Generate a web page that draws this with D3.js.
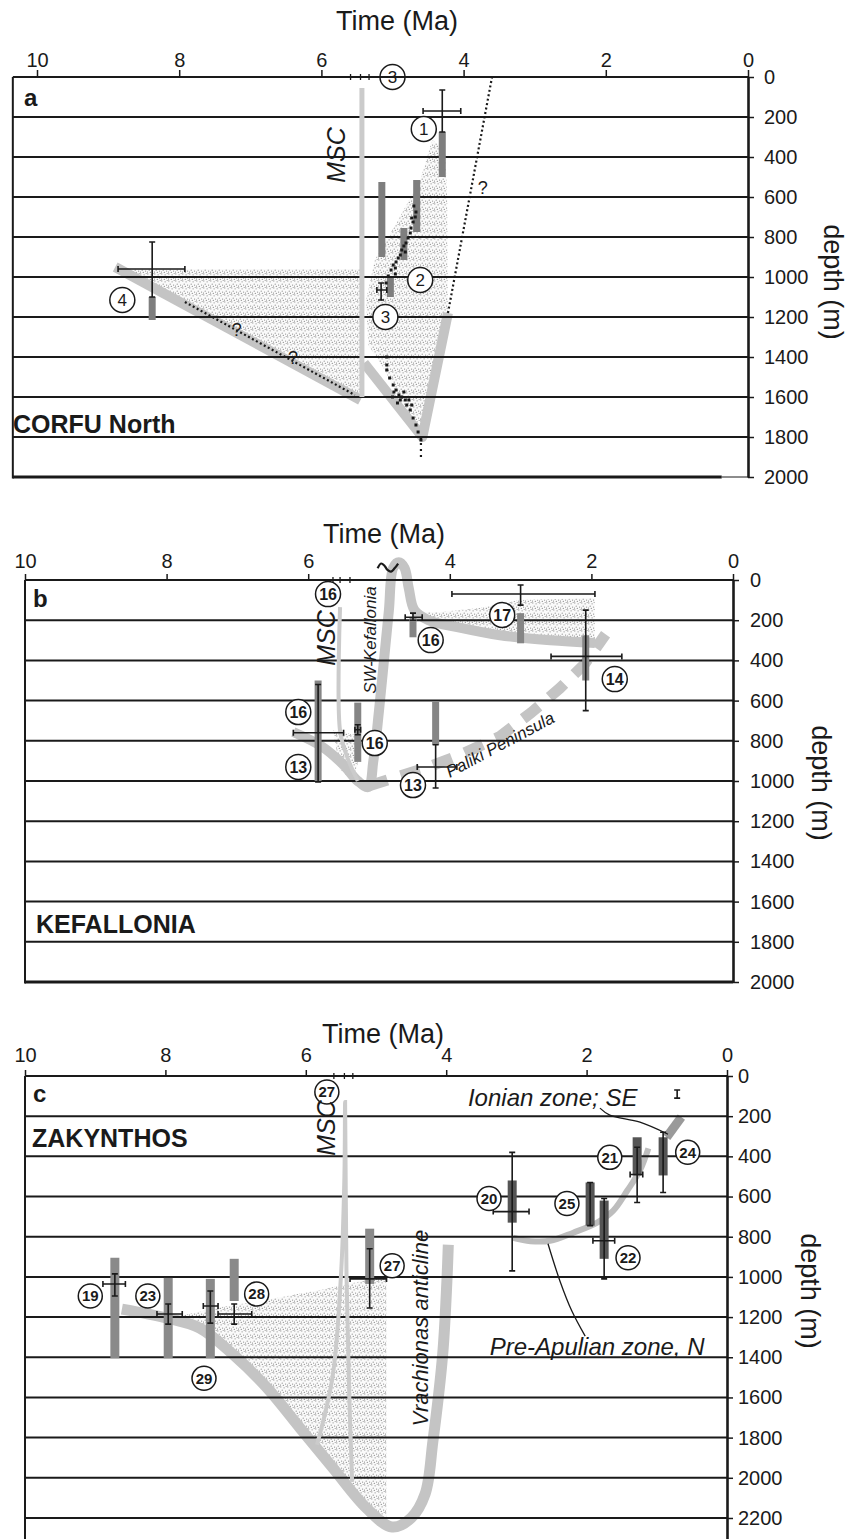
<!DOCTYPE html>
<html>
<head>
<meta charset="utf-8">
<script src="https://cdn.jsdelivr.net/npm/d3@7"></script>
<style>
  body { margin: 0; background: #fff; }
  svg { display: block; }
</style>
</head>
<body>
<svg id="chart" width="859" height="1539"></svg>
<script>
var font = '"Liberation Sans", Arial, Helvetica, sans-serif';
var ink = "#1a1a1a";
var thickGray = "#c4c4c4";
var mscGray = "#cbcbcb";

var timeTicks = [10, 8, 6, 4, 2, 0];
var depthTicksAB = d3.range(0, 2001, 200);
var depthTicksC = d3.range(0, 2201, 200);

// ---------- panel a : CORFU North ----------  [time Ma, depth m]
var aSubsidence = [[8.9, 950], [5.45, 1615]];
var aRebound = [[5.4, 1430], [4.58, 1800], [4.22, 1180]];
var aMsc = [[5.43, 1600], [5.43, 55]];
var aQueryLeft = [[7.92, 1125], [5.53, 1590]];
var aQueryRight = [[4.22, 1180], [3.6, 0]];
var aQueryBottom = [[4.6, 1800], [4.6, 1910]];
var aStippleLeft = [[8.9, 960], [5.45, 960], [5.45, 1610]];
var aStippleRight = [[4.44, 315], [4.26, 365], [4.23, 615], [4.22, 1180], [4.33, 1465], [4.47, 1715],
  [4.58, 1800], [4.82, 1665], [5.11, 1465], [5.34, 1340], [5.37, 1115], [5.25, 915], [4.96, 740], [4.61, 515]];
var aBars = [[5.15, 525, 900], [4.66, 515, 775], [4.84, 755, 915], [5.03, 1005, 1100], [4.3, 275, 500], [8.38, 1100, 1215]];
var aVErr = [[4.3, 65, 275], [8.38, 825, 1100], [5.16, 1030, 1115]];
var aHErr = [[170, 4.57, 4.04], [960, 8.86, 7.92], [1065, 5.22, 5.08]];
var aNumbers = [["1", 4.56, 260], ["2", 4.61, 1015], ["3", 5.1, 1200], ["3", 5.0, 0], ["4", 8.8, 1115]];
var aQuestions = [[7.19, 1265], [6.4, 1405], [3.73, 555]];
var aMscMarks = [5.59, 5.45, 5.33];
var aWellDots = [
  [5.09, 1030], [5.06, 995], [5.02, 965], [4.99, 940], [4.95, 925], [4.92, 905], [4.89, 890], [4.87, 865],
  [4.84, 845], [4.81, 830], [4.78, 805], [4.75, 780], [4.74, 755], [4.71, 725], [4.68, 700], [4.67, 675],
  [4.70, 645], [4.73, 705], [4.82, 875], [4.96, 955], [4.96, 985], [5.08, 1400], [5.08, 1440],
  [5.08, 1465], [5.04, 1505], [4.99, 1540], [4.95, 1565], [4.91, 1590], [4.87, 1600], [4.82, 1615],
  [4.80, 1640], [4.75, 1665], [4.71, 1705], [4.67, 1740], [4.64, 1775], [4.60, 1815], [4.98, 1575],
  [4.89, 1615], [4.84, 1575], [4.77, 1615], [4.73, 1640], [5.0, 1600], [4.93, 1630]
];

// ---------- panel b : KEFALLONIA ----------
var bCurve = [[6.21, 756], [5.8, 830], [5.5, 920], [5.3, 1000], [5.15, 1030], [5.08, 900], [5.0, 650],
  [4.93, 400], [4.86, 150], [4.8, -60], [4.72, -88], [4.64, -60], [4.58, 40], [4.5, 150], [4.3, 200],
  [3.86, 237], [3.29, 275], [2.58, 300], [1.95, 313]];
var bMsc = [[5.55, 135], [5.55, 750], [5.45, 880], [5.3, 1000]];
var bPaliki = [[5.15, 1025], [4.3, 930], [3.85, 870], [3.3, 780], [2.85, 660], [2.45, 540], [2.1, 420], [1.8, 270]];
var bStippleTop = [[4.56, 159], [4.14, 159], [3.57, 139], [3.01, 100], [1.95, 90], [1.95, 313], [2.58, 299],
  [3.29, 274], [3.86, 234], [4.28, 199]];
var bStippleLow = [[5.65, 746], [5.34, 771], [5.3, 920], [5.38, 995], [5.55, 945]];
var bBars = [[4.52, 185, 285], [3.0, 165, 315], [2.08, 275, 500], [4.2, 605, 820], [5.86, 500, 1000], [5.3, 610, 905]];
var bVErr = [[3.0, 25, 125], [4.52, 165, 200], [2.08, 150, 650], [4.2, 820, 1035], [5.86, 520, 1005], [5.3, 720, 770]];
var bHErr = [[70, 3.97, 1.95], [185, 4.63, 4.39], [380, 2.57, 1.57], [930, 4.46, 3.9], [760, 6.21, 5.5], [745, 5.34, 5.26]];
var bNumbers = [["16", 5.72, 70], ["16", 4.27, 299], ["17", 3.26, 174], ["14", 1.67, 493], ["13", 4.52, 1020],
  ["16", 6.14, 657], ["13", 6.14, 930], ["16", 5.06, 811]];
var bWave = [[5.02, -58], [4.97, -82], [4.92, -70], [4.88, -50], [4.83, -42], [4.78, -58], [4.73, -82]];
var bMscMarks = [5.65, 5.55, 5.41];

// ---------- panel c : ZAKYNTHOS ----------
var cVrachionas = [[8.62, 1160], [7.98, 1205], [7.51, 1255], [7.04, 1385], [6.55, 1553], [6.08, 1753],
  [5.61, 1953], [5.13, 2153], [4.77, 2245], [4.5, 2200], [4.3, 2080], [4.19, 1820], [4.05, 1385], [3.99, 1020], [3.97, 840]];
var cMsc = [[5.84, 1835], [5.62, 1500], [5.5, 1000], [5.45, 500], [5.44, 130], [5.42, 1000], [5.38, 1600], [5.34, 2020]];
var cStipple = [[7.8, 1195], [7.2, 1150], [6.5, 1110], [5.8, 1065], [5.2, 1020], [4.85, 1000], [4.85, 2240],
  [5.13, 2153], [5.61, 1953], [6.08, 1753], [6.55, 1553], [7.04, 1385], [7.51, 1255], [7.8, 1215]];
var cPreApulian = [[3.05, 805], [2.8, 822], [2.52, 820], [2.19, 780], [1.85, 730], [1.62, 670], [1.42, 570], [1.24, 470], [1.12, 360]];
var cIonian = [[0.86, 305], [0.65, 205]];
var cLeaderIonian = [[1.81, 160], [1.67, 195], [1.24, 230], [0.84, 290]];
var cLeaderPre = [[2.55, 835], [2.38, 1020], [2.21, 1170], [2.02, 1295]];
var cBarsLight = [[8.72, 905, 1405], [7.96, 1005, 1405], [7.36, 1010, 1405], [7.02, 910, 1120], [5.09, 760, 1035]];
var cBarsDark = [[3.06, 520, 730], [1.95, 530, 745], [1.75, 620, 910], [1.28, 305, 495], [0.91, 305, 495]];
var cVErr = [[8.72, 985, 1095], [7.96, 1135, 1235], [7.36, 1070, 1230], [7.02, 1135, 1235], [5.09, 860, 1155],
  [3.06, 380, 970], [1.95, 530, 745], [1.75, 610, 1010], [1.28, 355, 630], [0.91, 280, 580], [0.71, 70, 110]];
var cHErr = [[1035, 8.89, 8.57], [1185, 8.12, 7.76], [1145, 7.46, 7.25], [1185, 7.25, 6.77], [1010, 5.37, 4.85],
  [675, 3.33, 2.82], [820, 1.91, 1.6], [490, 1.38, 1.2]];
var cNumbers = [["19", 9.07, 1095], ["23", 8.25, 1095], ["29", 7.45, 1505], ["28", 6.7, 1085], ["27", 5.7, 80],
  ["27", 4.77, 945], ["20", 3.39, 610], ["25", 2.28, 635], ["22", 1.41, 905], ["21", 1.67, 405], ["24", 0.56, 380]];
var cMscMarks = [5.6, 5.45, 5.33];

var svg = d3.select("#chart").attr("font-family", font);
svg.append("rect").attr("width", 859).attr("height", 1539).attr("fill", "#fff");

// fine grey stipple used for the sediment fill
var pat = svg.append("defs").append("pattern").attr("id", "stipple")
  .attr("patternUnits", "userSpaceOnUse").attr("width", 7).attr("height", 7);
pat.append("rect").attr("width", 7).attr("height", 7).attr("fill", "#fafafa");
[[0.8, 0.9], [4.1, 1.8], [2.2, 4.2], [5.6, 5.1], [6.2, 0.2], [0.4, 6.1], [3.3, 6.4]].forEach(function(p) {
  pat.append("circle").attr("cx", p[0]).attr("cy", p[1]).attr("r", 0.6).attr("fill", "#8c8c8c");
});

function drawPanel(p) {
  var x = d3.scaleLinear().domain([10, 0]).range([p.x10, p.x0]);
  var y = d3.scaleLinear().domain([0, p.dMax]).range([p.top, p.top + p.dMax * p.ky]);
  var g = svg.append("g");
  var xl = x(p.tLeft), xr = x(0);
  function path(curve) {
    return d3.line().x(function(d) { return x(d[0]); }).y(function(d) { return y(d[1]); })
      .curve(curve || d3.curveLinear);
  }

  p.stipple.forEach(function(s) {
    g.append("path").attr("d", path()(s) + "Z").attr("fill", "url(#stipple)");
  });

  p.thick.forEach(function(c) {
    g.append("path").attr("d", path(c.curve)(c.pts))
      .attr("fill", "none").attr("stroke", c.color || thickGray).attr("stroke-width", c.width || 10)
      .attr("stroke-dasharray", c.dash || null).attr("stroke-linejoin", "round");
  });

  // horizontal depth lines
  g.selectAll(".grid").data(p.depthTicks.filter(function(d) { return d > 0 && d < 2000 || (p.open && d > 0); }))
    .enter().append("line")
    .attr("x1", xl).attr("x2", xr).attr("y1", function(d) { return y(d); }).attr("y2", function(d) { return y(d); })
    .attr("stroke", ink).attr("stroke-width", 2);

  p.thin.forEach(function(c) {
    g.append("path").attr("d", path(c.curve)(c.pts)).attr("fill", "none")
      .attr("stroke", c.color).attr("stroke-width", c.width).attr("stroke-dasharray", c.dash || null);
  });

  g.selectAll(".bar").data(p.bars).enter().append("line")
    .attr("x1", function(d) { return x(d[0]); }).attr("x2", function(d) { return x(d[0]); })
    .attr("y1", function(d) { return y(d[1]); }).attr("y2", function(d) { return y(d[2]); })
    .attr("stroke", function(d) { return d[3] || p.barColor; }).attr("stroke-width", p.barWidth);

  var err = g.append("g").attr("stroke", ink).attr("stroke-width", 1.6).attr("fill", "none");
  p.vErr.forEach(function(d) {
    var xx = x(d[0]);
    err.append("path").attr("d", "M" + xx + "," + y(d[1]) + "V" + y(d[2]) +
      "M" + (xx - 3) + "," + y(d[1]) + "h6M" + (xx - 3) + "," + y(d[2]) + "h6");
  });
  p.hErr.forEach(function(d) {
    var yy = y(d[0]);
    err.append("path").attr("d", "M" + x(d[1]) + "," + yy + "H" + x(d[2]) +
      "M" + x(d[1]) + "," + (yy - 3) + "v6M" + x(d[2]) + "," + (yy - 3) + "v6");
  });

  (p.dots || []).forEach(function(d) {
    g.append("rect").attr("x", x(d[0]) - 1.5).attr("y", y(d[1]) - 1.5).attr("width", 3).attr("height", 3).attr("fill", ink);
  });

  (p.questions || []).forEach(function(d) {
    g.append("text").attr("x", x(d[0])).attr("y", y(d[1])).attr("dy", "0.35em").attr("text-anchor", "middle")
      .attr("font-size", 18).attr("fill", ink).text("?");
  });

  p.marks.forEach(function(t) {
    g.append("line").attr("x1", x(t)).attr("x2", x(t)).attr("y1", y(0) - 3).attr("y2", y(0) + 3)
      .attr("stroke", ink).attr("stroke-width", 1.3);
  });

  p.numbers.forEach(function(d) {
    var n = g.append("g").attr("transform", "translate(" + x(d[1]) + "," + y(d[2]) + ")");
    n.append("circle").attr("r", p.numR).attr("fill", "#fff").attr("stroke", ink).attr("stroke-width", 1.5);
    n.append("text").attr("text-anchor", "middle").attr("dy", "0.36em").attr("font-size", p.numSize)
      .attr("font-weight", p.numWeight).attr("fill", ink).text(d[0]);
  });

  // frame
  g.append("line").attr("x1", xl).attr("x2", xl).attr("y1", y(0)).attr("y2", p.open ? y(p.dMax) : y(2000) + 1.5)
    .attr("stroke", ink).attr("stroke-width", 2);
  g.append("line").attr("x1", xl).attr("x2", xr).attr("y1", y(0)).attr("y2", y(0))
    .attr("stroke", ink).attr("stroke-width", 2);
  if (!p.open) {
    var xb = p.bottomEnd != null ? x(p.bottomEnd) : xr;
    g.append("line").attr("x1", xl).attr("x2", xb).attr("y1", y(2000)).attr("y2", y(2000))
      .attr("stroke", ink).attr("stroke-width", 3.2);
    if (xb < xr) {
      g.append("line").attr("x1", xb).attr("x2", xr).attr("y1", y(2000)).attr("y2", y(2000))
        .attr("stroke", ink).attr("stroke-width", 1);
    }
  }

  var gx = g.append("g").attr("transform", "translate(0," + y(0) + ")")
    .call(d3.axisTop(x).tickValues(timeTicks).tickSize(p.xTick).tickPadding(p.xPad).tickFormat(d3.format("d")));
  gx.select(".domain").remove();
  gx.selectAll("line").attr("stroke", ink).attr("stroke-width", 1.5);
  gx.selectAll("text").attr("font-size", 20).attr("font-family", font).attr("fill", ink);

  var gy = g.append("g").attr("transform", "translate(" + xr + ",0)")
    .call(d3.axisRight(y).tickValues(p.depthTicks).tickSize(6).tickSizeOuter(0).tickPadding(p.yPad)
      .tickFormat(d3.format("d")));
  gy.select(".domain").attr("stroke", ink).attr("stroke-width", 2.6);
  gy.selectAll("line").attr("stroke", ink).attr("stroke-width", 1.5);
  gy.selectAll("text").attr("font-size", 20).attr("font-family", font).attr("fill", ink);

  g.append("text").attr("x", p.timeLabel[0]).attr("y", p.timeLabel[1]).attr("text-anchor", "middle")
    .attr("font-size", 27).attr("fill", ink).text("Time (Ma)");
  g.append("text").attr("transform", "translate(" + p.depthLabel[0] + "," + p.depthLabel[1] + ") rotate(90)")
    .attr("text-anchor", "middle").attr("font-size", 27).attr("fill", ink).text("depth (m)");
  g.append("text").attr("x", p.letter[0]).attr("y", p.letter[1]).attr("font-size", 24).attr("font-weight", "bold")
    .attr("fill", ink).text(p.letter[2]);
  g.append("text").attr("x", p.name[0]).attr("y", p.name[1]).attr("font-size", 25).attr("font-weight", "bold")
    .attr("fill", ink).text(p.name[2]);
  g.append("text").attr("transform", "translate(" + p.msc[0] + "," + p.msc[1] + ") rotate(-90)")
    .attr("text-anchor", "middle").attr("font-size", 25).attr("font-style", "italic").attr("fill", ink).text("MSC");

  return { x: x, y: y, g: g, path: path };
}

// panel a
drawPanel({
  x10: 37, x0: 748, top: 77, ky: 0.2, dMax: 2000, tLeft: 10.34, bottomEnd: 0.37, depthTicks: depthTicksAB,
  xTick: 7, xPad: 3, yPad: 10, numR: 12.5, numSize: 17, numWeight: "normal", barColor: "#7e7e7e", barWidth: 7,
  stipple: [aStippleLeft, aStippleRight],
  thick: [{ pts: aSubsidence }, { pts: aRebound }],
  thin: [
    { pts: aMsc, color: mscGray, width: 5 },
    { pts: aQueryLeft, color: ink, width: 2.2, dash: "2,2.5" },
    { pts: aQueryRight, color: ink, width: 2.2, dash: "2,2.5" },
    { pts: aQueryBottom, color: ink, width: 2.2, dash: "2,4" }
  ],
  bars: aBars, vErr: aVErr, hErr: aHErr, dots: aWellDots, questions: aQuestions,
  marks: aMscMarks, numbers: aNumbers,
  timeLabel: [397, 30], depthLabel: [824, 282], letter: [24, 106, "a"], name: [13, 433, "CORFU North"], msc: [345, 155]
});

// panel b
var pb = drawPanel({
  x10: 25, x0: 733, top: 580, ky: 0.201, dMax: 2000, tLeft: 10, depthTicks: depthTicksAB,
  xTick: 6, xPad: 6, yPad: 11, numR: 12.5, numSize: 16, numWeight: "bold", barColor: "#858585", barWidth: 7,
  stipple: [bStippleTop, bStippleLow],
  thick: [
    { pts: bPaliki, dash: "20,14", width: 11 },
    { pts: bCurve, curve: d3.curveCatmullRom }
  ],
  thin: [
    { pts: bMsc, color: mscGray, width: 4, curve: d3.curveCatmullRom },
    { pts: bWave, color: ink, width: 2.2, curve: d3.curveCatmullRom }
  ],
  bars: bBars, vErr: bVErr, hErr: bHErr, marks: bMscMarks, numbers: bNumbers,
  timeLabel: [384, 543], depthLabel: [812, 783], letter: [33, 607, "b"], name: [36, 933, "KEFALLONIA"], msc: [335, 638]
});
pb.g.append("text").attr("transform", "translate(376,640) rotate(-90)").attr("text-anchor", "middle")
  .attr("font-size", 17).attr("font-style", "italic").attr("fill", ink).text("SW-Kefallonia");
pb.g.append("text").attr("transform", "translate(" + pb.x(4.0) + "," + pb.y(985) + ") rotate(-28)")
  .attr("font-size", 17).attr("font-style", "italic").attr("fill", ink).text("Paliki Peninsula");

// panel c
var pc = drawPanel({
  x10: 25, x0: 727, top: 1076, ky: 0.2009, dMax: 2305, tLeft: 10, depthTicks: depthTicksC, open: true,
  xTick: 6, xPad: 8, yPad: 5, numR: 12, numSize: 15, numWeight: "bold", barColor: "#8a8a8a", barWidth: 9,
  stipple: [cStipple],
  thick: [
    { pts: cVrachionas, curve: d3.curveCatmullRom, width: 11 },
    { pts: cPreApulian, curve: d3.curveCatmullRom, width: 6, color: "#bdbdbd" },
    { pts: cIonian, width: 9, color: "#9a9a9a" }
  ],
  thin: [
    { pts: cMsc, color: mscGray, width: 4, curve: d3.curveCatmullRom },
    { pts: cLeaderIonian, color: ink, width: 1.3, curve: d3.curveCatmullRom },
    { pts: cLeaderPre, color: ink, width: 1.3, curve: d3.curveCatmullRom }
  ],
  bars: cBarsLight.concat(cBarsDark.map(function(d) { return d.concat(["#555555"]); })),
  vErr: cVErr, hErr: cHErr, marks: cMscMarks, numbers: cNumbers,
  timeLabel: [383, 1043], depthLabel: [801, 1291], letter: [33, 1102, "c"], name: [32, 1147, "ZAKYNTHOS"], msc: [335, 1128]
});
pc.g.append("text").attr("x", pc.x(3.69)).attr("y", pc.y(150)).attr("font-size", 24).attr("font-style", "italic")
  .attr("fill", ink).text("Ionian zone; SE");
pc.g.append("text").attr("x", pc.x(3.38)).attr("y", pc.y(1390)).attr("font-size", 24).attr("font-style", "italic")
  .attr("fill", ink).text("Pre-Apulian zone, N");
pc.g.append("text").attr("transform", "translate(" + pc.x(4.26) + "," + pc.y(1255) + ") rotate(-90)")
  .attr("text-anchor", "middle").attr("font-size", 22).attr("font-style", "italic").attr("fill", ink)
  .text("Vrachionas anticline");
</script>
</body>
</html>
